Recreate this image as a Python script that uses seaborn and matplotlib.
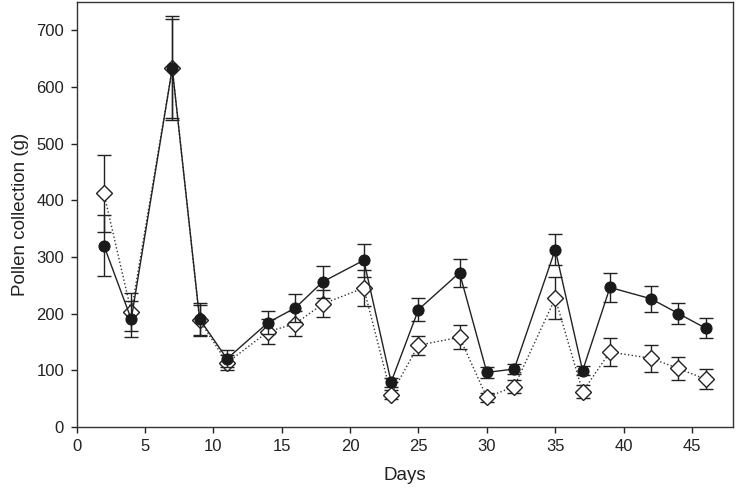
import numpy as np
import pandas as pd
import seaborn as sns
import matplotlib
matplotlib.use('Agg')
import matplotlib.pyplot as plt

days = [2, 4, 7, 9, 11, 14, 16, 18, 21, 23, 25, 28, 30, 32, 35, 37, 39, 42, 44, 46]
filled_mean = [320, 190, 633, 190, 120, 184, 210, 256, 294, 79, 207, 272, 96, 102, 313, 99, 246, 226, 200, 174]
filled_err = [54, 32, 92, 28, 15, 20, 25, 28, 29, 8, 20, 25, 9, 8, 27, 8, 26, 23, 19, 18]
open_mean = [412, 203, 633, 188, 113, 168, 182, 217, 245, 57, 144, 158, 52, 71, 227, 62, 132, 121, 103, 84]
open_err = [68, 34, 87, 27, 13, 22, 22, 24, 32, 8, 17, 21, 8, 12, 37, 12, 25, 24, 21, 18]

df = pd.DataFrame({'day': days,
                   'filled': filled_mean, 'filled_se': filled_err,
                   'open': open_mean, 'open_se': open_err})

sns.set_style('ticks')
plt.rcParams['font.family'] = ['Liberation Sans', 'DejaVu Sans']

fig = plt.figure(figsize=(7.36, 4.98), dpi=100)
ax = fig.add_axes([0.104, 0.143, 0.892, 0.853])

# open diamonds, dotted line
ax.errorbar(df['day'], df['open'], yerr=df['open_se'], fmt='none',
            ecolor='#222222', elinewidth=1.0, capsize=5, capthick=1.0, zorder=2)
sns.lineplot(data=df, x='day', y='open', ax=ax, color='#333333', linestyle=':',
             linewidth=1.0, marker='D', markersize=8, markerfacecolor='white',
             markeredgecolor='#222222', markeredgewidth=1.0, zorder=3)

# filled circles, solid line
ax.errorbar(df['day'], df['filled'], yerr=df['filled_se'], fmt='none',
            ecolor='#222222', elinewidth=1.0, capsize=5, capthick=1.0, zorder=4)
sns.lineplot(data=df, x='day', y='filled', ax=ax, color='#222222', linestyle='-',
             linewidth=1.0, marker='o', markersize=8, markerfacecolor='#1a1a1a',
             markeredgecolor='#1a1a1a', zorder=5)

ax.set_xlim(0, 48)
ax.set_ylim(0, 750)
ax.set_xticks(range(0, 46, 5))
ax.set_yticks(range(0, 701, 100))
ax.tick_params(direction='out', length=4, width=1, colors='#222222', labelsize=12, pad=5)
for s in ax.spines.values():
    s.set_color('#333333')
    s.set_linewidth(1.0)

ax.set_xlabel('Days', fontsize=13.5, color='#222222', labelpad=9)
ax.set_ylabel('Pollen collection (g)', fontsize=13.5, color='#222222', labelpad=5)

fig.savefig('out.png', dpi=100)
